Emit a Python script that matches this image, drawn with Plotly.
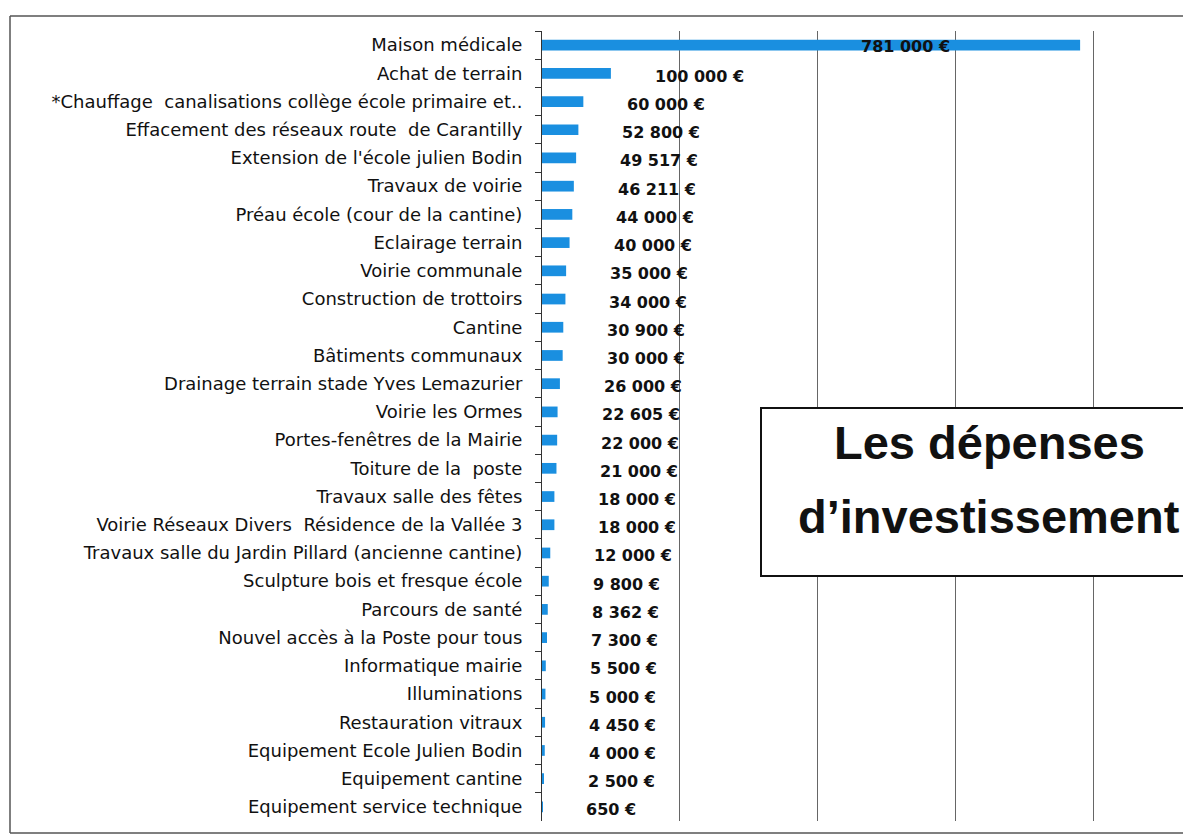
import plotly.graph_objects as go

categories = [
    "Maison médicale",
    "Achat de terrain",
    "*Chauffage  canalisations collège école primaire et..",
    "Effacement des réseaux route  de Carantilly",
    "Extension de l'école julien Bodin",
    "Travaux de voirie",
    "Préau école (cour de la cantine)",
    "Eclairage terrain",
    "Voirie communale",
    "Construction de trottoirs",
    "Cantine",
    "Bâtiments communaux",
    "Drainage terrain stade Yves Lemazurier",
    "Voirie les Ormes",
    "Portes-fenêtres de la Mairie",
    "Toiture de la  poste",
    "Travaux salle des fêtes",
    "Voirie Réseaux Divers  Résidence de la Vallée 3",
    "Travaux salle du Jardin Pillard (ancienne cantine)",
    "Sculpture bois et fresque école",
    "Parcours de santé",
    "Nouvel accès à la Poste pour tous",
    "Informatique mairie",
    "Illuminations",
    "Restauration vitraux",
    "Equipement Ecole Julien Bodin",
    "Equipement cantine",
    "Equipement service technique",
]
values = [781000, 100000, 60000, 52800, 49517, 46211, 44000, 40000, 35000,
          34000, 30900, 30000, 26000, 22605, 22000, 21000, 18000, 18000,
          12000, 9800, 8362, 7300, 5500, 5000, 4450, 4000, 2500, 650]
title_lines = ["Les dépenses", "d’investissement"]

# page body has an 8px margin: the figure is drawn at (8, 8)
O = 8
W, H = 1191 - O, 836 - O
ML, MR, MT, MB = 542 - O, 0, 31 - O, 15

def fmt(v):
    return f"{v:,}".replace(",", " ") + " €"

fig = go.Figure()
fig.add_trace(go.Bar(
    x=values, y=categories, orientation="h",
    marker=dict(color="#1a8fe0", line=dict(width=0)),
    width=0.38, hoverinfo="skip",
))

label_font = dict(family="DejaVu Sans", size=16, color="#111", weight="bold")
vmax = max(values)
annotations = []
for c, v in zip(categories, values):
    if v == vmax:
        annotations.append(dict(x=v, y=c, xref="x", yref="y", text=fmt(v),
                                showarrow=False, xanchor="right", xshift=-128,
                                yshift=-1, font=label_font))
    else:
        annotations.append(dict(x=v, y=c, xref="x", yref="y", text=fmt(v),
                                showarrow=False, xanchor="left", xshift=42,
                                yshift=-3, font=label_font))

pw = W - ML - MR
ph = H - MT - MB
def px_x(p):
    return (p - O - ML) / pw
def px_y(p):
    return (H - MB - (p - O)) / ph

for line, yc in zip(title_lines, [442, 517]):
    annotations.append(dict(
        x=px_x(989), y=px_y(yc), xref="paper", yref="paper",
        text=line, showarrow=False,
        font=dict(family="Liberation Sans", size=47, color="#111", weight="bold"),
        xanchor="center", yanchor="middle", align="center",
    ))

shapes = [
    # outer frame
    dict(type="line", xref="paper", yref="paper", x0=px_x(10), x1=px_x(1195),
         y0=px_y(16), y1=px_y(16), line=dict(color="#555", width=1.5), layer="above"),
    dict(type="line", xref="paper", yref="paper", x0=px_x(10), x1=px_x(10),
         y0=px_y(16), y1=px_y(833), line=dict(color="#555", width=1.5), layer="above"),
    dict(type="line", xref="paper", yref="paper", x0=px_x(10), x1=px_x(1195),
         y0=px_y(833), y1=px_y(833), line=dict(color="#555", width=1.5), layer="above"),
    # title box
    dict(type="rect", xref="paper", yref="paper", x0=px_x(761), x1=px_x(1200),
         y0=px_y(576), y1=px_y(408), fillcolor="white",
         line=dict(color="#111", width=2), layer="above"),
]

fig.update_layout(
    width=W, height=H,
    margin=dict(l=ML, r=MR, t=MT, b=MB, pad=0),
    paper_bgcolor="white", plot_bgcolor="white",
    showlegend=False,
    annotations=annotations,
    shapes=shapes,
    xaxis=dict(range=[0, (1191 - 542) / 0.000689], dtick=200000,
               showgrid=True, gridcolor="#666", gridwidth=1,
               showticklabels=False, zeroline=False, showline=False, ticks=""),
    yaxis=dict(autorange="reversed", showline=True, linecolor="#333", linewidth=1,
               ticks="outside", ticklen=6, tickcolor="#333", tickson="boundaries",
               ticklabelstandoff=15,
               tickfont=dict(family="DejaVu Sans", size=18, color="#111"),
               showgrid=False),
)

fig.write_html("out.html")
